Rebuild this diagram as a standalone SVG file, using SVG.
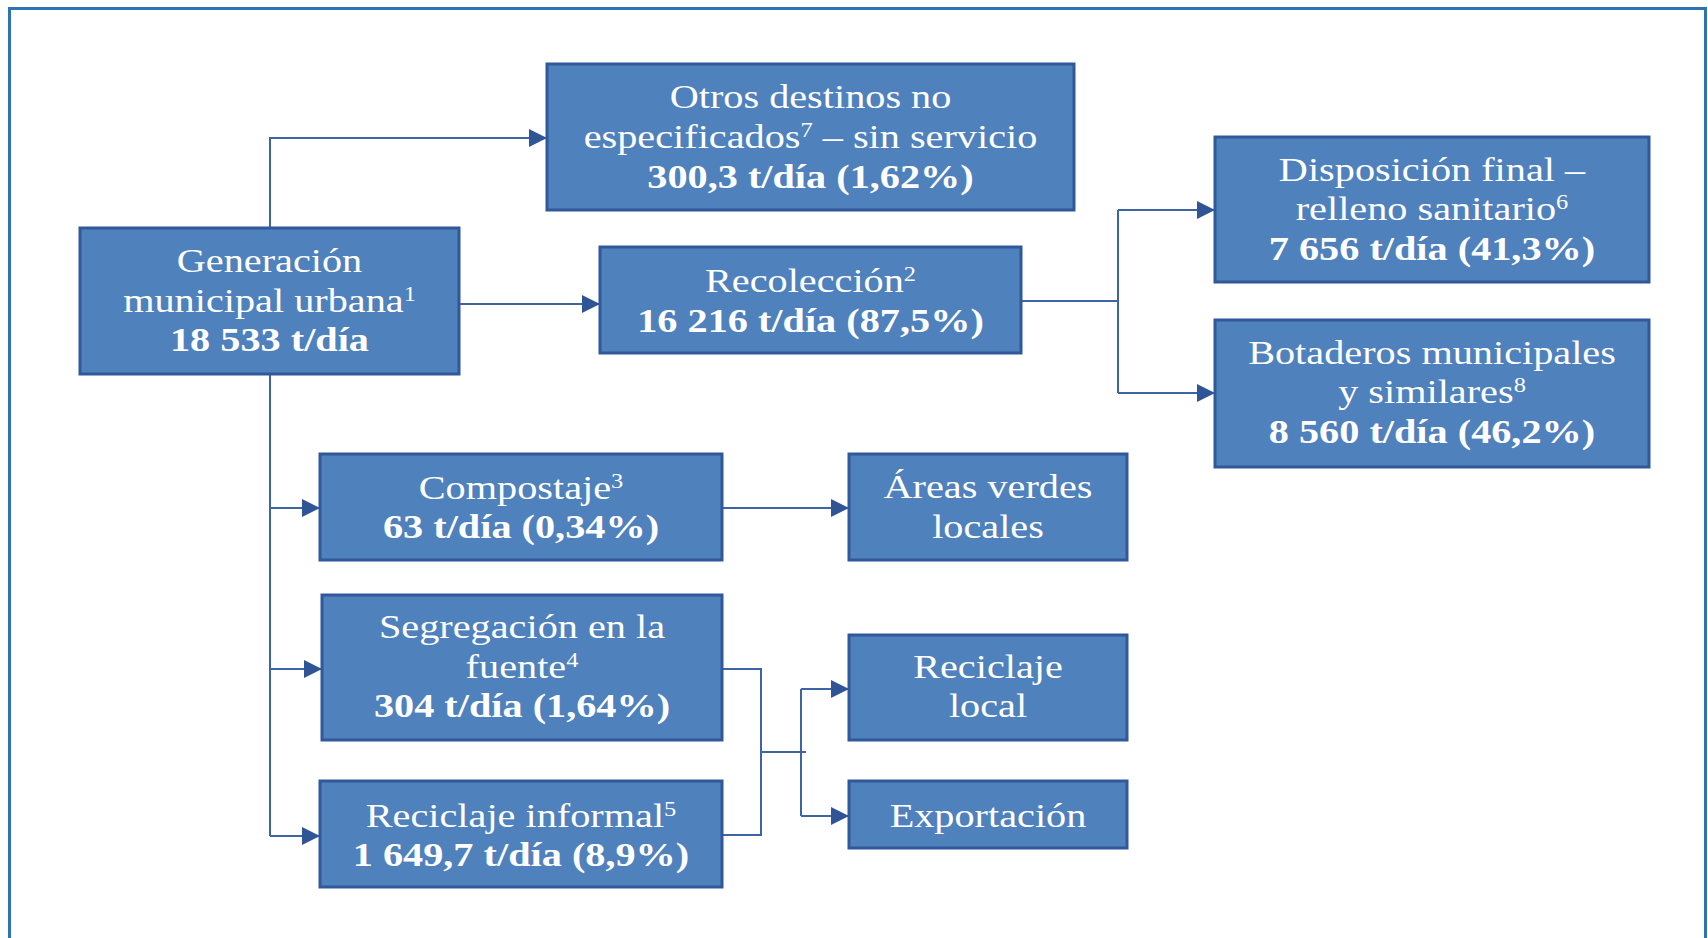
<svg xmlns="http://www.w3.org/2000/svg" width="1708" height="938" viewBox="0 0 1708 938">
<style>
.box{fill:#4F81BD;stroke:#30589A;stroke-width:3}
.t{font-family:"Liberation Serif","Times New Roman",serif;font-size:33px;fill:#fff;text-anchor:middle}
.b{font-weight:bold}
.c{fill:none;stroke:#3D65A6;stroke-width:2}
.frame{fill:none;stroke:#2E74B5;stroke-width:3}
</style>
<defs>
<marker id="arr" markerUnits="userSpaceOnUse" markerWidth="19" markerHeight="19" refX="18" refY="9" orient="auto">
<path d="M0,0 L18,9 L0,18 z" fill="#2F5597"/>
</marker>
</defs>
<rect width="1708" height="938" fill="#fff"/>
<path class="frame" d="M9.5,945 V8.5 H1705.5 V945"/>
<g id="connectors">
<path class="c" d="M270,228 V138 H547" marker-end="url(#arr)"/>
<path class="c" d="M459,304 H600" marker-end="url(#arr)"/>
<path class="c" d="M1021,301 H1118"/>
<path class="c" d="M1118,210 V393"/>
<path class="c" d="M1118,210 H1215" marker-end="url(#arr)"/>
<path class="c" d="M1118,393 H1215" marker-end="url(#arr)"/>
<path class="c" d="M270,374 V836"/>
<path class="c" d="M270,508 H320" marker-end="url(#arr)"/>
<path class="c" d="M270,669 H322" marker-end="url(#arr)"/>
<path class="c" d="M270,836 H320" marker-end="url(#arr)"/>
<path class="c" d="M722,508 H849" marker-end="url(#arr)"/>
<path class="c" d="M722,669 H761 V835 H722"/>
<path class="c" d="M761,752 H806"/>
<path class="c" d="M801,689 V816"/>
<path class="c" d="M801,689 H849" marker-end="url(#arr)"/>
<path class="c" d="M801,816 H849" marker-end="url(#arr)"/>
</g>
<g id="n-generacion">
<rect class="box" x="80" y="228" width="379" height="146"/>
<g transform="translate(269.5,0) scale(1.22,1)">
<text class="t" x="0" y="272">Generación</text>
<text class="t" x="0" y="312">municipal urbana<tspan font-size="20" baseline-shift="super">1</tspan></text>
<text class="t b" x="0" y="351">18 533 t/día</text>
</g>
</g>
<g id="n-otros">
<rect class="box" x="547" y="64" width="527" height="146"/>
<g transform="translate(810.5,0) scale(1.22,1)">
<text class="t" x="0" y="108">Otros destinos no</text>
<text class="t" x="0" y="148">especificados<tspan font-size="20" baseline-shift="super">7</tspan> – sin servicio</text>
<text class="t b" x="0" y="188">300,3 t/día (1,62%)</text>
</g>
</g>
<g id="n-recoleccion">
<rect class="box" x="600" y="247" width="421" height="106"/>
<g transform="translate(810.5,0) scale(1.22,1)">
<text class="t" x="0" y="292">Recolección<tspan font-size="20" baseline-shift="super">2</tspan></text>
<text class="t b" x="0" y="332">16 216 t/día (87,5%)</text>
</g>
</g>
<g id="n-disposicion">
<rect class="box" x="1215" y="137" width="434" height="145"/>
<g transform="translate(1432,0) scale(1.22,1)">
<text class="t" x="0" y="181">Disposición final –</text>
<text class="t" x="0" y="220">relleno sanitario<tspan font-size="20" baseline-shift="super">6</tspan></text>
<text class="t b" x="0" y="260">7 656 t/día (41,3%)</text>
</g>
</g>
<g id="n-botaderos">
<rect class="box" x="1215" y="320" width="434" height="147"/>
<g transform="translate(1432,0) scale(1.22,1)">
<text class="t" x="0" y="364">Botaderos municipales</text>
<text class="t" x="0" y="403">y similares<tspan font-size="20" baseline-shift="super">8</tspan></text>
<text class="t b" x="0" y="443">8 560 t/día (46,2%)</text>
</g>
</g>
<g id="n-compostaje">
<rect class="box" x="320" y="454" width="402" height="106"/>
<g transform="translate(521,0) scale(1.22,1)">
<text class="t" x="0" y="499">Compostaje<tspan font-size="20" baseline-shift="super">3</tspan></text>
<text class="t b" x="0" y="538">63 t/día (0,34%)</text>
</g>
</g>
<g id="n-areas">
<rect class="box" x="849" y="454" width="278" height="106"/>
<g transform="translate(988,0) scale(1.22,1)">
<text class="t" x="0" y="498">Áreas verdes</text>
<text class="t" x="0" y="538">locales</text>
</g>
</g>
<g id="n-segregacion">
<rect class="box" x="322" y="595" width="400" height="145"/>
<g transform="translate(522,0) scale(1.22,1)">
<text class="t" x="0" y="638">Segregación en la</text>
<text class="t" x="0" y="678">fuente<tspan font-size="20" baseline-shift="super">4</tspan></text>
<text class="t b" x="0" y="717">304 t/día (1,64%)</text>
</g>
</g>
<g id="n-reciclaje-local">
<rect class="box" x="849" y="635" width="278" height="105"/>
<g transform="translate(988,0) scale(1.22,1)">
<text class="t" x="0" y="678">Reciclaje</text>
<text class="t" x="0" y="717">local</text>
</g>
</g>
<g id="n-reciclaje-informal">
<rect class="box" x="320" y="781" width="402" height="106"/>
<g transform="translate(521,0) scale(1.22,1)">
<text class="t" x="0" y="827">Reciclaje informal<tspan font-size="20" baseline-shift="super">5</tspan></text>
<text class="t b" x="0" y="866">1 649,7 t/día (8,9%)</text>
</g>
</g>
<g id="n-exportacion">
<rect class="box" x="849" y="781" width="278" height="67"/>
<g transform="translate(988,0) scale(1.22,1)">
<text class="t" x="0" y="827">Exportación</text>
</g>
</g>
</svg>
